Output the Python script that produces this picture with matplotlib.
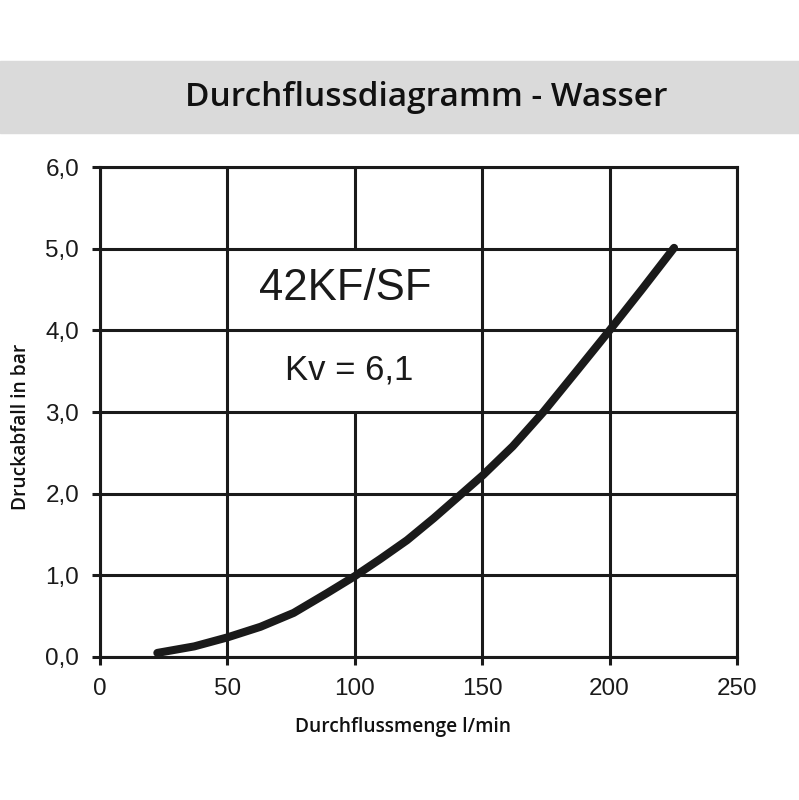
import matplotlib
matplotlib.use('Agg')
import matplotlib.pyplot as plt
from matplotlib.patches import Rectangle

# ── Daten ──
flow_lpm = [22.5, 37, 50, 63, 76, 89, 100, 110, 120.5, 131, 142, 150.4,
            162, 174, 187.3, 200, 212.9, 225.3]
drop_bar = [0.05, 0.13, 0.24, 0.37, 0.54, 0.78, 0.99, 1.2, 1.43, 1.7, 2.0, 2.23,
            2.58, 3.0, 3.51, 4.0, 4.51, 5.01]
x_ticks = [0, 50, 100, 150, 200, 250]
y_ticks = [0, 1, 2, 3, 4, 5, 6]
y_labels = ['0,0', '1,0', '2,0', '3,0', '4,0', '5,0', '6,0']

TITLE = 'Durchflussdiagramm - Wasser'
MODEL = '42KF/SF'
KV_TEXT = 'Kv = 6,1'
INK = '#1a1a1a'

fig = plt.figure(figsize=(7.99, 8.0), dpi=100)

# ── Titelband ──
fig.patches.append(Rectangle((0, 1 - 133 / 800), 1, 72 / 800,
                             transform=fig.transFigure, color='#dadada', zorder=0))
fig.text(426 / 799, 1 - 97 / 800, TITLE, ha='center', va='center',
         fontsize=24, family='Open Sans', fontweight='semibold', color='#111111')

ax = fig.add_axes([100 / 799, 1 - 657 / 800, 637 / 799, 490 / 800])
ax.plot(flow_lpm, drop_bar, color=INK, lw=5.8, solid_capstyle='round',
        solid_joinstyle='round', zorder=3)

ax.set_xlim(0, 250)
ax.set_ylim(0, 6)
ax.set_xticks(x_ticks)
ax.set_yticks(y_ticks)
ax.set_yticklabels(y_labels)

# Gitter: horizontal durchgehend, vertikal bei 100 hinter dem Textfeld unterbrochen
ax.grid(True, axis='y', color=INK, lw=2.2)
for xv in x_ticks:
    if xv == 100:
        ax.vlines(xv, 0, 3, color=INK, lw=2.2, zorder=1)
        ax.vlines(xv, 5, 6, color=INK, lw=2.2, zorder=1)
    else:
        ax.vlines(xv, 0, 6, color=INK, lw=2.2, zorder=1)

for sp in ax.spines.values():
    sp.set_color(INK)
    sp.set_linewidth(2.2)
ax.tick_params(direction='out', length=6, width=2.2, color=INK,
               labelsize=17.5, pad=9, labelcolor=INK)
for lab in ax.get_xticklabels() + ax.get_yticklabels():
    lab.set_family('Liberation Sans')

# Modell und Kv-Wert im Diagramm
ax.text(96.2, 4.51, MODEL, ha='center', va='center', fontsize=31.5,
        family='Liberation Sans', color=INK)
ax.text(97.9, 3.51, KV_TEXT, ha='center', va='center', fontsize=25,
        family='Liberation Sans', color=INK)

# Achsenbeschriftungen
fig.text(403 / 799, 1 - 727 / 800, 'Durchflussmenge l/min', ha='center', va='center',
         fontsize=13.8, family='Open Sans', fontweight='semibold', color='#111111')
fig.text(21 / 799, 1 - 427 / 800, 'Druckabfall in bar', ha='center', va='center',
         rotation=90, fontsize=13.8, family='Open Sans', fontweight='semibold',
         color='#111111')

plt.savefig('out.png', dpi=100)
plt.close()
